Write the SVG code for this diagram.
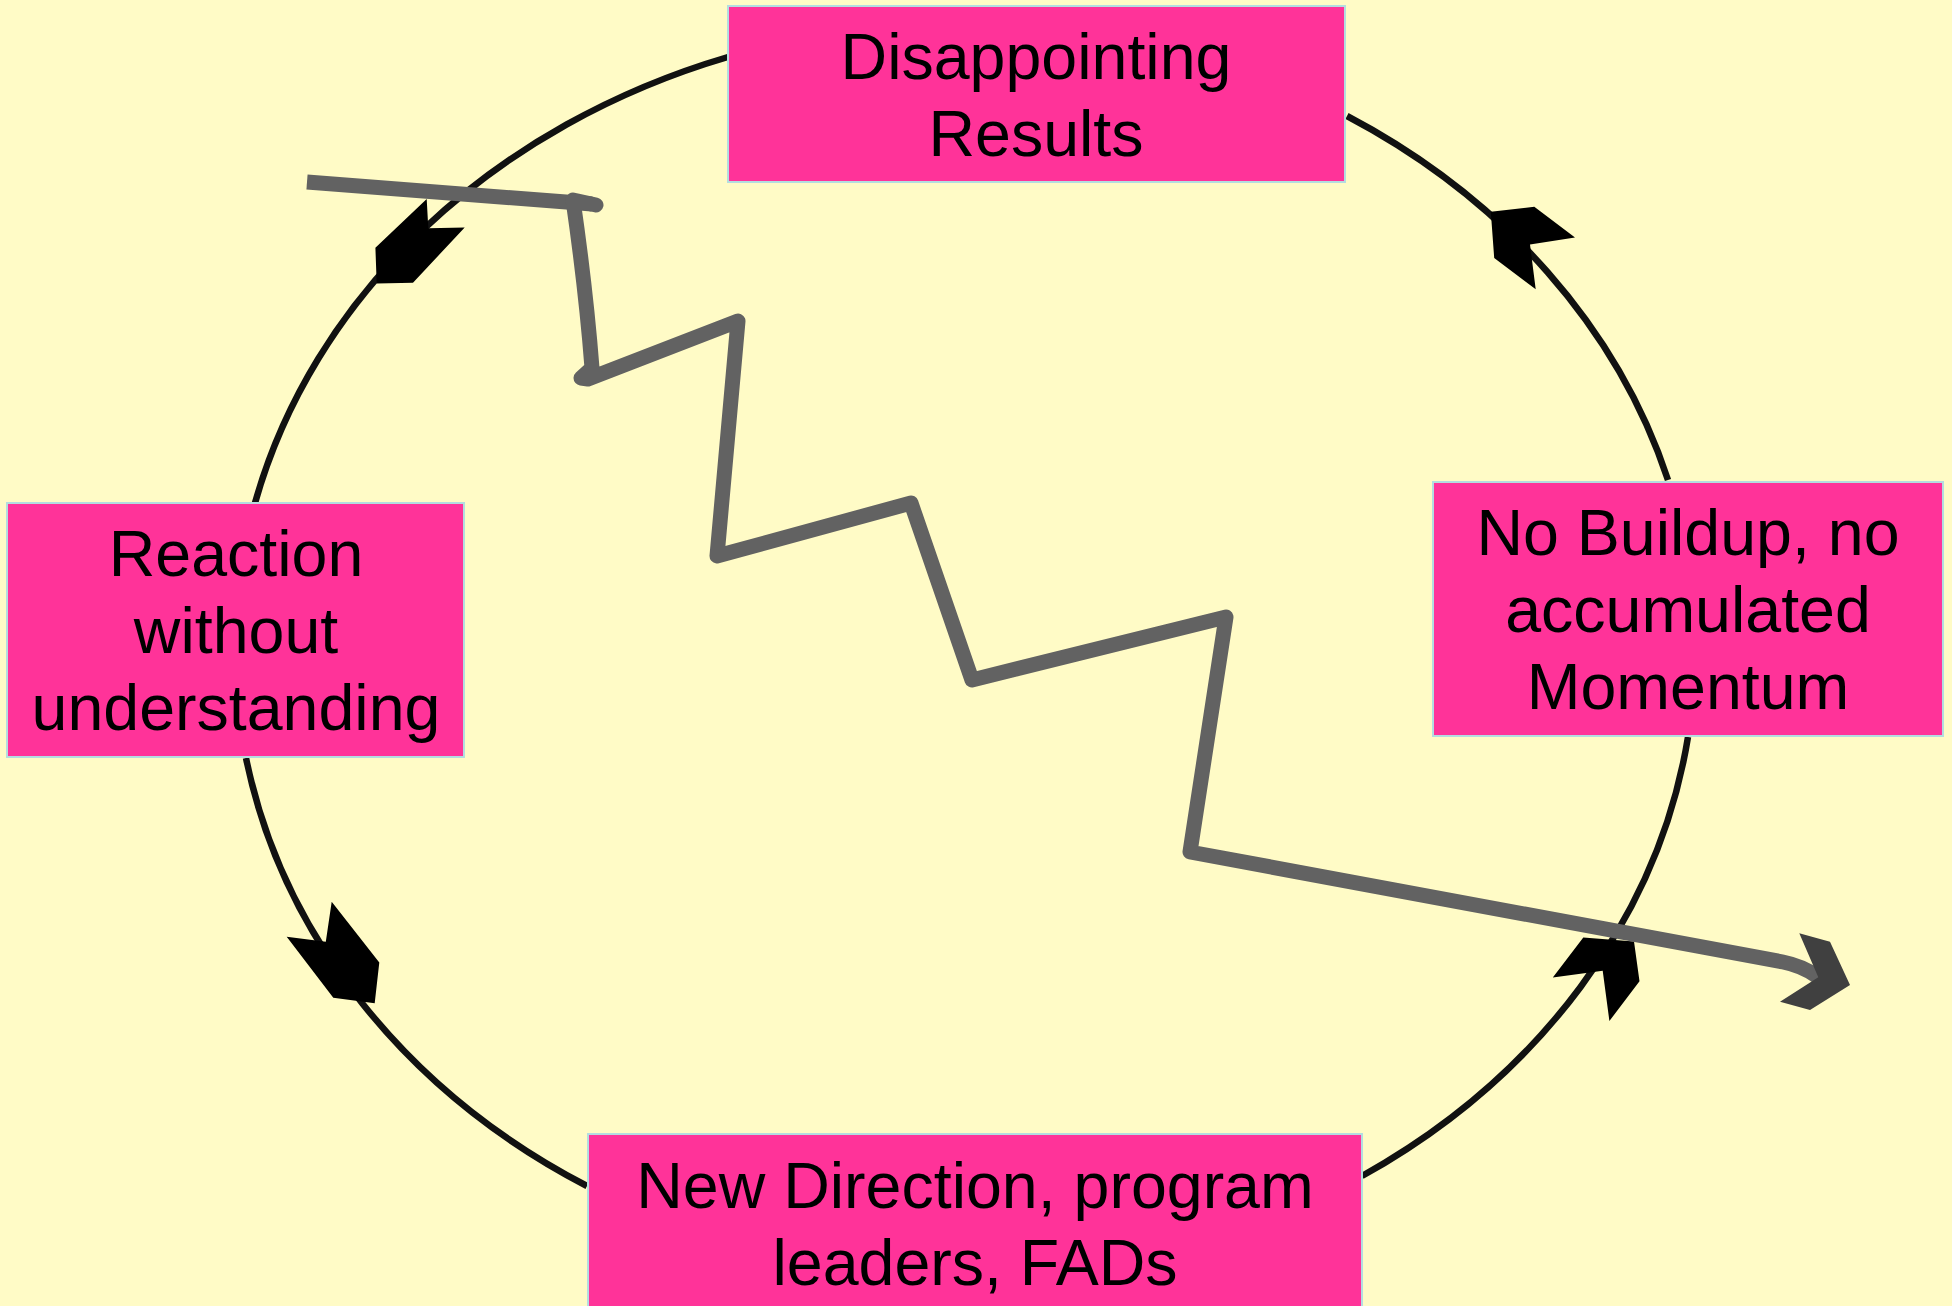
<svg xmlns="http://www.w3.org/2000/svg" width="1952" height="1306" viewBox="0 0 1952 1306">
<style>
.bg{fill:#FFFBC6}
.box{fill:#FF3399;stroke:#B4DDE0;stroke-width:2}
.lbl{font-family:"Liberation Sans",Arial,sans-serif;font-size:64.5px;fill:#000;text-anchor:middle}
.arc{fill:none;stroke:#111;stroke-width:6.5}
.head{fill:#000}
.zig{fill:none;stroke:#626262;stroke-width:15;stroke-linejoin:round}
</style>
<rect class="bg" x="0" y="0" width="1952" height="1306"/>
<g id="connectors">
<path class="arc" d="M728,57 A730,627 0 0 0 255,503"/>
<path class="arc" d="M246,758 A730,627 0 0 0 587,1186"/>
<path class="arc" d="M1362,1176 A730,627 0 0 0 1688,737"/>
<path class="arc" d="M1668,480 A730,627 0 0 0 1347,116"/>
<polygon class="head" points="426.7,199 428.3,228.3 464.7,227.5 413,282.7 376.7,283.6 375.4,247.8"/>
<polygon class="head" points="331.7,901.7 379.3,962.5 374.7,1003.3 333.3,997.8 286.7,936.7 325.8,941.7"/>
<polygon class="head" points="1583.3,937.5 1634,941.6 1639.5,981.3 1609.4,1021 1602.7,970.8 1552.8,977.5"/>
<polygon class="head" points="1490.8,211.7 1534.3,206.7 1575,237.5 1530,244.5 1535.7,289.3 1494.2,258"/>
</g>
<g id="trend">
<path class="zig" d="M307,182 L592,204"/>
<path class="zig" stroke-linecap="round" d="M596,205 L573,200 Q586,290 592,368 L581,378 L588,379 L738,321 L717,556 L911,503 L972,680 L1226,617 L1190,852 L1783,962 Q1803,966 1818,977"/>
<polygon fill="#404040" points="1799.3,933.3 1830,941.7 1850,985 1810,1010 1780,1001.7 1818.3,977.3"/>
</g>
<g id="node-disappointing">
<rect class="box" x="728" y="6" width="617" height="176"/>
<text class="lbl" x="1036" y="79">Disappointing</text>
<text class="lbl" x="1036" y="156">Results</text>
</g>
<g id="node-reaction">
<rect class="box" x="7" y="503" width="457" height="254"/>
<text class="lbl" x="236" y="576">Reaction</text>
<text class="lbl" x="236" y="653">without</text>
<text class="lbl" x="236" y="730">understanding</text>
</g>
<g id="node-buildup">
<rect class="box" x="1433" y="482" width="510" height="254"/>
<text class="lbl" x="1688" y="555">No Buildup, no</text>
<text class="lbl" x="1688" y="632">accumulated</text>
<text class="lbl" x="1688" y="709">Momentum</text>
</g>
<g id="node-direction">
<rect class="box" x="588" y="1134" width="774" height="200"/>
<text class="lbl" x="975" y="1208">New Direction, program</text>
<text class="lbl" x="975" y="1285">leaders, FADs</text>
</g>
</svg>
